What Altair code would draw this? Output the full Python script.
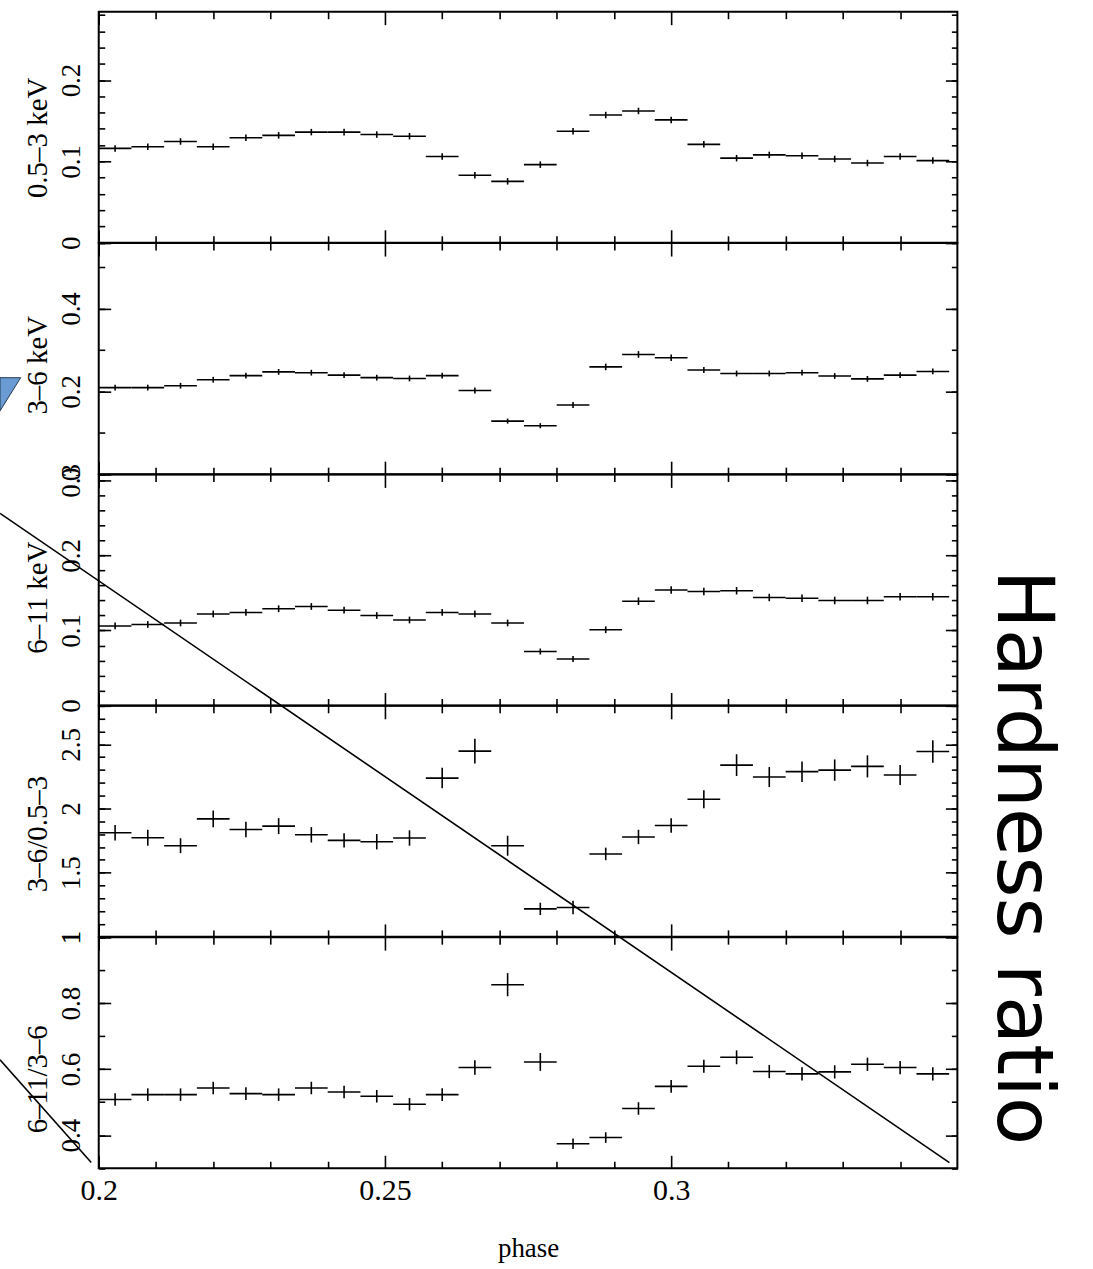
import altair as alt
import pandas as pd

# ---------------- data ----------------
phase = [0.20286, 0.20857, 0.21429, 0.22000, 0.22571, 0.23143, 0.23714, 0.24286,
         0.24857, 0.25429, 0.26000, 0.26571, 0.27143, 0.27714, 0.28286, 0.28857,
         0.29429, 0.30000, 0.30571, 0.31143, 0.31714, 0.32286, 0.32857, 0.33429,
         0.34000, 0.34571]
half_bin = 0.002857

soft = [0.116, 0.118, 0.1245, 0.118, 0.129, 0.132, 0.136, 0.136, 0.133, 0.131,
        0.106, 0.083, 0.0755, 0.096, 0.137, 0.157, 0.162, 0.151, 0.121, 0.104,
        0.108, 0.107, 0.103, 0.098, 0.106, 0.101]
soft_err = [0.004, 0.004, 0.004, 0.004, 0.004, 0.004, 0.004, 0.004, 0.004, 0.004,
            0.004, 0.004, 0.004, 0.004, 0.004, 0.004, 0.004, 0.004, 0.004, 0.004,
            0.004, 0.004, 0.004, 0.004, 0.004, 0.004]

mid = [0.209, 0.209, 0.2135, 0.228, 0.238, 0.247, 0.245, 0.239, 0.233, 0.231,
       0.238, 0.202, 0.128, 0.117, 0.167, 0.259, 0.289, 0.281, 0.2515, 0.243,
       0.243, 0.245, 0.237, 0.230, 0.239, 0.248]
mid_err = [0.007, 0.007, 0.007, 0.007, 0.007, 0.007, 0.007, 0.007, 0.007, 0.007,
           0.007, 0.007, 0.006, 0.006, 0.007, 0.008, 0.008, 0.008, 0.007, 0.007,
           0.007, 0.007, 0.007, 0.007, 0.007, 0.007]

hard = [0.106, 0.108, 0.110, 0.122, 0.124, 0.129, 0.132, 0.127, 0.120, 0.114,
        0.124, 0.122, 0.110, 0.072, 0.062, 0.101, 0.139, 0.154, 0.152, 0.153,
        0.144, 0.143, 0.140, 0.140, 0.145, 0.145]
hard_err = [0.0045, 0.0045, 0.0045, 0.0045, 0.0045, 0.0045, 0.0045, 0.0045, 0.0045, 0.0045,
            0.0045, 0.0045, 0.0045, 0.004, 0.004, 0.0045, 0.005, 0.005, 0.005, 0.005,
            0.005, 0.005, 0.005, 0.005, 0.005, 0.005]

hr_mid_soft = [1.811, 1.772, 1.710, 1.919, 1.837, 1.863, 1.795, 1.752, 1.741, 1.770,
               2.237, 2.447, 1.710, 1.218, 1.229, 1.646, 1.778, 1.868, 2.072, 2.338,
               2.245, 2.287, 2.299, 2.328, 2.261, 2.444]
hr_mid_soft_err = [0.060, 0.062, 0.058, 0.065, 0.060, 0.062, 0.060, 0.056, 0.060, 0.060,
                   0.080, 0.097, 0.078, 0.048, 0.052, 0.049, 0.056, 0.056, 0.070, 0.085,
                   0.078, 0.080, 0.083, 0.086, 0.078, 0.088]

hr_hard_mid = [0.508, 0.523, 0.523, 0.543, 0.526, 0.523, 0.543, 0.531, 0.518, 0.494,
               0.523, 0.605, 0.856, 0.622, 0.374, 0.393, 0.481, 0.548, 0.609, 0.636,
               0.593, 0.586, 0.592, 0.615, 0.605, 0.586]
hr_hard_mid_err = [0.019, 0.019, 0.019, 0.019, 0.019, 0.019, 0.019, 0.019, 0.019, 0.019,
                   0.019, 0.022, 0.035, 0.027, 0.016, 0.016, 0.019, 0.019, 0.020, 0.021,
                   0.020, 0.020, 0.020, 0.020, 0.020, 0.020]

panel_titles = ["0.5–3 keV", "3–6 keV", "6–11 keV", "3–6/0.5–3", "6–11/3–6"]
panel_domains = [[0, 0.284], [0, 0.558], [0, 0.308], [1, 2.8], [0.3, 1.0]]
panel_major = [[0, 0.1, 0.2], [0, 0.2, 0.4], [0, 0.1, 0.2, 0.3],
               [1, 1.5, 2, 2.5], [0.4, 0.6, 0.8, 1.0]]
panel_minor_step = [0.02, 0.1, 0.02, 0.1, 0.1]
panel_title_y = [126, 122, 123, 128, 142]

x_major = [0.2, 0.25, 0.3]
x_minor = [0.21, 0.22, 0.23, 0.24, 0.26, 0.27, 0.28, 0.29, 0.31, 0.32, 0.33, 0.34]
x_domain = [0.2, 0.35]

# ---------------- layout constants ----------------
W = 861
H = 231.7
SERIF = "Liberation Serif"
LINE = 1.6


def minor_ticks(dom, step):
    out = []
    k = 0
    while True:
        v = round(dom[0] + k * step, 4)
        if v > dom[1] + 1e-9:
            break
        out.append(v)
        k += 1
    return out


def tick_axis(orient, values, size, **kw):
    return alt.Axis(orient=orient, values=values, tickSize=size, offset=-size,
                    domain=False, grid=False, ticks=True, tickColor="black",
                    tickWidth=LINE, **kw)


def make_panel(idx, vals, errs, bottom):
    df = pd.DataFrame({
        "phase": phase,
        "v": vals,
        "x0": [p - half_bin for p in phase],
        "x1": [p + half_bin for p in phase],
        "lo": [v - e for v, e in zip(vals, errs)],
        "hi": [v + e for v, e in zip(vals, errs)],
    })
    dom = panel_domains[idx]
    sx = alt.Scale(domain=x_domain, nice=False, zero=False)
    sy = alt.Scale(domain=dom, nice=False, zero=False)
    base = alt.Chart(df)

    hbar = base.mark_rule(color="black", strokeWidth=LINE).encode(
        x=alt.X("x0:Q", scale=sx, axis=None), x2="x1:Q",
        y=alt.Y("v:Q", scale=sy, axis=None))
    vbar = base.mark_rule(color="black", strokeWidth=LINE).encode(
        x=alt.X("phase:Q", scale=sx, axis=None),
        y=alt.Y("lo:Q", scale=sy, axis=None), y2="hi:Q")

    def ghost(xaxis=None, yaxis=None):
        return base.mark_point(opacity=0).encode(
            x=alt.X("phase:Q", scale=sx, axis=xaxis),
            y=alt.Y("v:Q", scale=sy, axis=yaxis))

    if bottom:
        xb = tick_axis("bottom", x_major, 13, labels=True, format="~g",
                       labelFont=SERIF, labelFontSize=30, labelColor="black",
                       labelPadding=7, labelFlush=False, labelOverlap=False,
                       title="phase", titleFont=SERIF, titleFontSize=27,
                       titleFontWeight="normal", titleColor="black", titlePadding=31)
    else:
        xb = tick_axis("bottom", x_major, 13, labels=False, title=None)

    ymin = minor_ticks(dom, panel_minor_step[idx])
    yl = tick_axis("left", panel_major[idx], 12, labels=True, format="~g",
                   labelFont=SERIF, labelFontSize=27, labelColor="black",
                   labelAngle=270, labelAlign="center", labelBaseline="alphabetic",
                   labelPadding=19, labelFlush=False, labelOverlap=False,
                   title=panel_titles[idx], titleFont=SERIF, titleFontSize=29,
                   titleFontWeight="normal", titleColor="black", titleAngle=270,
                   titleAlign="center", titleBaseline="alphabetic",
                   titleX=-64, titleY=panel_title_y[idx])

    layers = [
        hbar, vbar,
        ghost(xaxis=xb),
        ghost(xaxis=tick_axis("bottom", x_minor, 7, labels=False, title=None)),
        ghost(xaxis=tick_axis("top", x_major, 13, labels=False, title=None)),
        ghost(xaxis=tick_axis("top", x_minor, 7, labels=False, title=None)),
        ghost(yaxis=yl),
        ghost(yaxis=tick_axis("left", ymin, 6, labels=False, title=None)),
        ghost(yaxis=tick_axis("right", panel_major[idx], 12, labels=False, title=None)),
        ghost(yaxis=tick_axis("right", ymin, 6, labels=False, title=None)),
    ]
    return layers


one = pd.DataFrame({"k": [0]})

series = [(soft, soft_err), (mid, mid_err), (hard, hard_err),
          (hr_mid_soft, hr_mid_soft_err), (hr_hard_mid, hr_hard_mid_err)]

panels = []
for i, (vals, errs) in enumerate(series):
    layers = make_panel(i, vals, errs, bottom=(i == 4))
    if i == 1:
        # stray blue marker at the left edge of the original figure
        layers.append(alt.Chart(one).mark_point(
            shape="M0,0L1.243,0L0,2Z", size=1109, filled=True, fill="#6a9bd2",
            stroke="#233a55", strokeWidth=1, opacity=1).encode(
            x=alt.value(-99), y=alt.value(135)))
    if i == 3:
        layers.append(alt.Chart(one).mark_text(
            text="Hardness ratio", angle=90, font="DejaVu Sans", fontSize=79,
            align="center", baseline="middle", color="black").encode(
            x=alt.value(926), y=alt.value(152)))
    if i == 4:
        # stray diagonal strokes present in the original figure
        layers.append(alt.Chart(one).mark_rule(color="black", strokeWidth=1.6).encode(
            x=alt.value(-99), x2=alt.value(853), y=alt.value(-425), y2=alt.value(226)))
        layers.append(alt.Chart(one).mark_rule(color="black", strokeWidth=1.6).encode(
            x=alt.value(-99), x2=alt.value(-7.5), y=alt.value(123), y2=alt.value(226)))
    panel = alt.layer(*layers).resolve_axis(x="independent", y="independent").properties(
        width=W, height=H)
    panels.append(panel)

chart = alt.vconcat(*panels, spacing=0, bounds="flush").properties(
    padding={"left": -3, "top": 8, "right": 30, "bottom": 5},
    background="white",
).configure_view(stroke="black", strokeWidth=2)

chart.save("out.html", embed_options={"renderer": "svg", "actions": False})
